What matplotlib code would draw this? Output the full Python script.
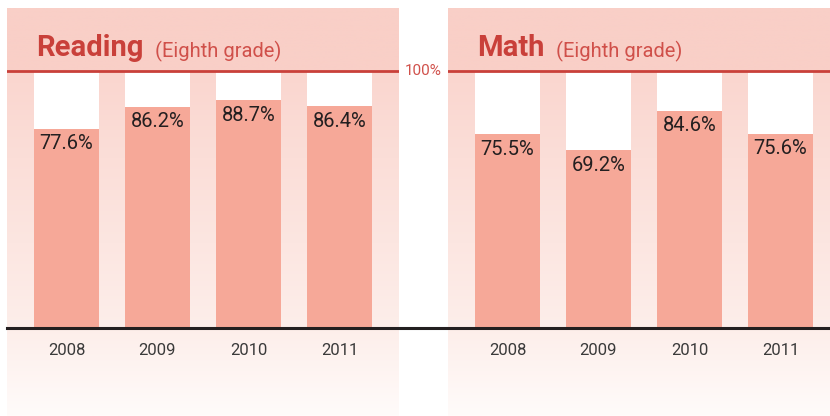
import matplotlib.pyplot as plt
import numpy as np
from matplotlib.colors import LinearSegmentedColormap
from matplotlib.lines import Line2D
from matplotlib.transforms import blended_transform_factory

plt.rcParams['font.family'] = ['Roboto', 'DejaVu Sans']

# data
years = ['2008', '2009', '2010', '2011']
reading = [77.6, 86.2, 88.7, 86.4]
math = [75.5, 69.2, 84.6, 75.6]
panels = [('Reading', '(Eighth grade)', reading),
          ('Math', '(Eighth grade)', math)]

# colours
red = '#c9403a'
bar_col = '#f6a898'
text_dark = '#231f20'

fig = plt.figure(figsize=(8.3, 4.16), dpi=100)
W, H = 830, 416

# y range in percent units (0 at baseline, 100 at the red line)
ymin, ymax = -34.0, 124.5
bw = 0.714

# background fade: pink header, lighter columns, white at bottom
bg = LinearSegmentedColormap.from_list('bg', [
    (0.0, '#fffbfa'),
    ((0 - ymin) / (ymax - ymin), '#fdeeea'),
    ((99.5 - ymin) / (ymax - ymin), '#fad6cf'),
    ((100.5 - ymin) / (ymax - ymin), '#f9cfc7'),
    (1.0, '#f9cfc7'),
])
grad = np.linspace(0, 1, 500).reshape(-1, 1)

# axes boxes in pixels: left, right
boxes = [(7, 399, -0.6538, 3.6538), (448, 830, -0.6538, 3.544)]

axes = []
for (title, sub, vals), (x0, x1, xl, xr) in zip(panels, boxes):
    ax = fig.add_axes([x0 / W, 0, (x1 - x0) / W, (H - 8) / H])
    ax.set_xlim(xl, xr)
    ax.set_ylim(ymin, ymax)
    ax.axis('off')
    ax.imshow(grad, cmap=bg, aspect='auto', origin='lower',
              extent=(xl, xr, ymin, ymax), zorder=0)
    x = np.arange(len(vals))
    v = np.array(vals)
    ax.bar(x, 100 - v, bottom=v, width=bw, color='white', zorder=1)
    ax.bar(x, v, width=bw, color=bar_col, zorder=2)
    ax.axhline(100, color=red, lw=2.0, zorder=3)
    for i, val in enumerate(vals):
        ax.annotate('%.1f%%' % val, xy=(i, val), xytext=(0, -15),
                    textcoords='offset pixels', ha='center', va='center',
                    fontsize=14.5, color=text_dark, zorder=4)
        ax.text(i, -8.5, years[i], ha='center', va='center',
                fontsize=12, color='#3a3a3a')
    t = ax.annotate(title, xy=(29, 360), xycoords='axes pixels',
                    ha='left', va='baseline', fontsize=21,
                    fontweight='bold', color=red)
    ax.annotate(sub, xy=(1, 0), xycoords=t, xytext=(12, 0),
                textcoords='offset pixels', ha='left', va='bottom',
                fontsize=14.5, color='#d0504a')
    axes.append(ax)

# black baseline across both panels
tr = blended_transform_factory(fig.transFigure, axes[0].transData)
fig.add_artist(Line2D([7 / W, 1], [0, 0], transform=tr,
                      color=text_dark, lw=2.2, zorder=5))
fig.text(423 / W, 100, '100%', transform=tr, ha='center', va='center',
         fontsize=11, color='#d0504a')

plt.savefig('out.png', dpi=100)
